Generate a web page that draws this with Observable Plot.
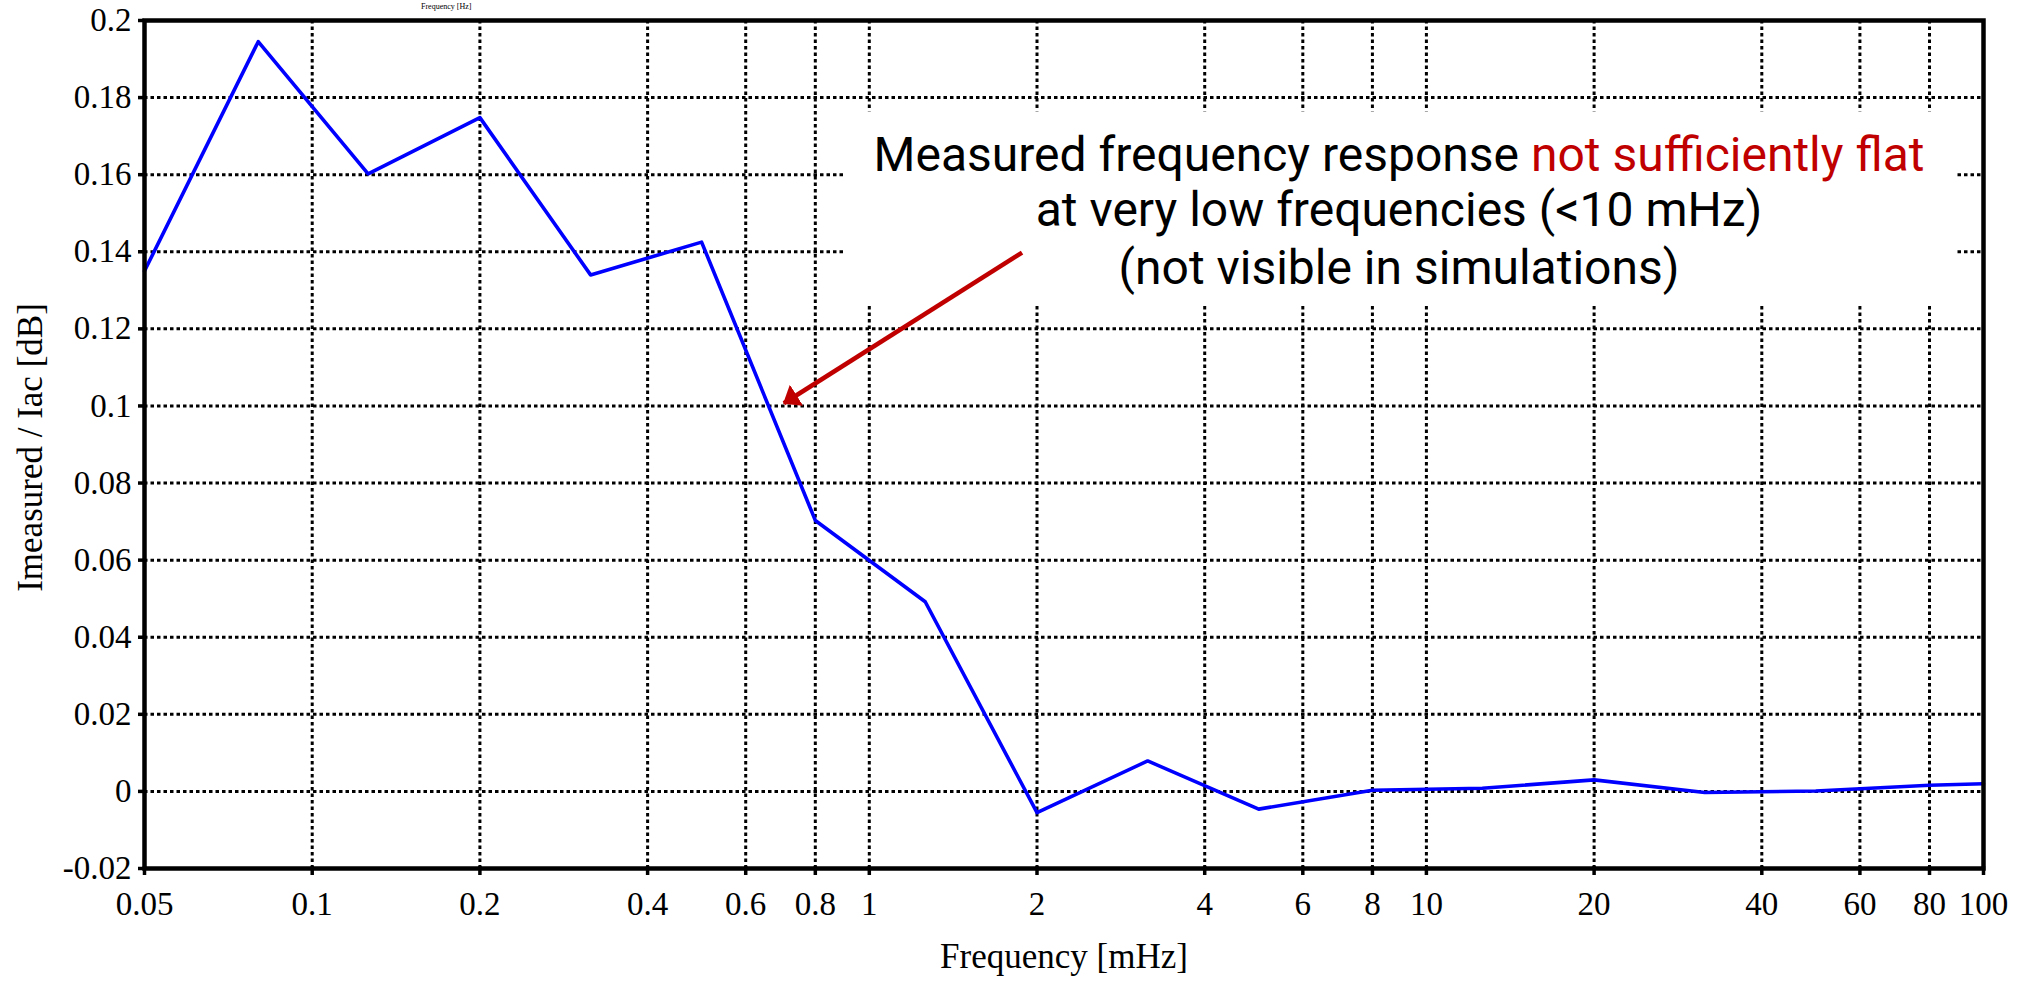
<!DOCTYPE html>
<html>
<head>
<meta charset="utf-8">
<script src="https://cdn.jsdelivr.net/npm/d3@7"></script>
<script src="https://cdn.jsdelivr.net/npm/@observablehq/plot@0.6"></script>
<style>
  html, body { margin: 0; padding: 0; background: #fff; }
  #chart svg { display: block; }
</style>
</head>
<body>
<div id="chart"></div>
<script>
// Frequency response measured at low frequency (magnitude ratio in dB)
const freqMHz    = [0.05, 0.08, 0.126, 0.2, 0.316, 0.5, 0.8, 1.26, 2, 3.16, 5, 8, 12.6, 20, 31.6, 50, 80, 100];
const responseDb = [0.135, 0.1945, 0.1602, 0.1748, 0.134, 0.1425, 0.0703, 0.0492, -0.0055, 0.0079, -0.0046, 0.0003, 0.0008, 0.003, -0.0003, 0.0001, 0.0016, 0.002];

// Axis ticks
const xTicks = [0.05, 0.1, 0.2, 0.4, 0.6, 0.8, 1, 2, 4, 6, 8, 10, 20, 40, 60, 80, 100];
const yTicks = [-0.02, 0, 0.02, 0.04, 0.06, 0.08, 0.1, 0.12, 0.14, 0.16, 0.18, 0.2];

// Labels
const xLabel = "Frequency [mHz]";
const yLabel = "Imeasured / Iac [dB]";
const topNote = "Frequency [Hz]";
const noteLines = [
  "Measured frequency response not sufficiently flat",
  "at very low frequencies (<10 mHz)",
  "(not visible in simulations)"
];
const noteHighlight = "not sufficiently flat";

const RED = "#c00000";
const BLUE = "#0000ff";
const serif = "'Liberation Serif', 'Times New Roman', Times, serif";

const series = freqMHz.map((f, i) => ({f, v: responseDb[i]}));

// Annotation placement, in data units (mHz, dB)
const noteX = 8.93;
const noteBaselines = [0.161, 0.1468, 0.1317];
const noteRows = noteLines.map((t, i) => ({t, y: noteBaselines[i]}));
const noteBox = {x1: 0.91, x2: 89.1, y1: 0.1258, y2: 0.1763};
const pointer = {x1: 1.88, y1: 0.1398, x2: 0.7025, y2: 0.1007};

const dotted = {stroke: "black", strokeOpacity: 1, strokeWidth: 3, strokeDasharray: "3.5,3"};
const fmt = d => String(d);

const chart = Plot.plot({
  width: 2023,
  height: 987,
  marginLeft: 144,
  marginRight: 40,
  marginTop: 20,
  marginBottom: 119,
  style: {fontFamily: serif, fontSize: "33px", color: "black", background: "white"},
  x: {type: "log", domain: [0.05, 100], label: null, axis: null},
  y: {domain: [-0.02, 0.2], label: null},
  marks: [
    Plot.gridX(xTicks, dotted),
    Plot.gridY(yTicks, dotted),
    Plot.rect([noteBox], {x1: "x1", x2: "x2", y1: "y1", y2: "y2", fill: "white"}),
    Plot.line(series, {x: "f", y: "v", stroke: BLUE, strokeWidth: 3.6}),
    Plot.frame({stroke: "black", strokeWidth: 4.5}),
    // x ticks (outward) and their labels
    Plot.tickX(xTicks, {x: d => d, stroke: "black", strokeWidth: 3.5, insetTop: 846, insetBottom: -7}),
    Plot.text(xTicks, {x: d => d, text: fmt, frameAnchor: "bottom", dy: 23, lineAnchor: "top", fontSize: 33}),
    Plot.axisY(yTicks, {tickSize: 6, tickPadding: 7, strokeWidth: 3.5, tickFormat: fmt, label: null, fontSize: 33}),
    Plot.text([xLabel], {frameAnchor: "bottom", dy: 99, lineAnchor: "bottom", text: d => d, fontSize: 35}),
    Plot.text([yLabel], {frameAnchor: "left", dx: -103, dy: 3, rotate: -90, textAnchor: "middle", lineAnchor: "bottom", text: d => d, fontSize: 35}),
    Plot.text([topNote], {x: 0.174, frameAnchor: "top", dy: -12, lineAnchor: "bottom", text: d => d, fontSize: 8}),
    Plot.text(noteRows, {x: () => noteX, y: "y", text: "t", lineAnchor: "bottom", textAnchor: "middle",
      fontFamily: "Roboto", fontSize: 48, fill: "black"}),
    Plot.link([pointer], {x1: "x1", y1: "y1", x2: "x2", y2: "y2", stroke: RED, strokeWidth: 4.5})
  ]
});

// Filled arrowhead on the pointer
const svg = d3.select(chart);
const defs = svg.insert("defs", ":first-child");
defs.append("marker")
  .attr("id", "pointer-head")
  .attr("viewBox", "0 0 16 25")
  .attr("refX", 15)
  .attr("refY", 12.5)
  .attr("markerUnits", "userSpaceOnUse")
  .attr("markerWidth", 16)
  .attr("markerHeight", 25)
  .attr("orient", "auto")
  .append("path")
  .attr("d", "M0,0L16,12.5L0,25Z")
  .attr("fill", RED);
svg.selectAll('g[aria-label="link"] path').attr("marker-end", "url(#pointer-head)");

// Colour the highlighted phrase of the first note line
svg.selectAll("text").each(function() {
  if (this.textContent === noteLines[0]) {
    const t = d3.select(this);
    const head = noteLines[0].slice(0, noteLines[0].indexOf(noteHighlight));
    t.text(null);
    t.append("tspan").text(head);
    t.append("tspan").attr("fill", RED).text(noteHighlight);
  }
});

document.getElementById("chart").append(chart);
</script>
</body>
</html>
